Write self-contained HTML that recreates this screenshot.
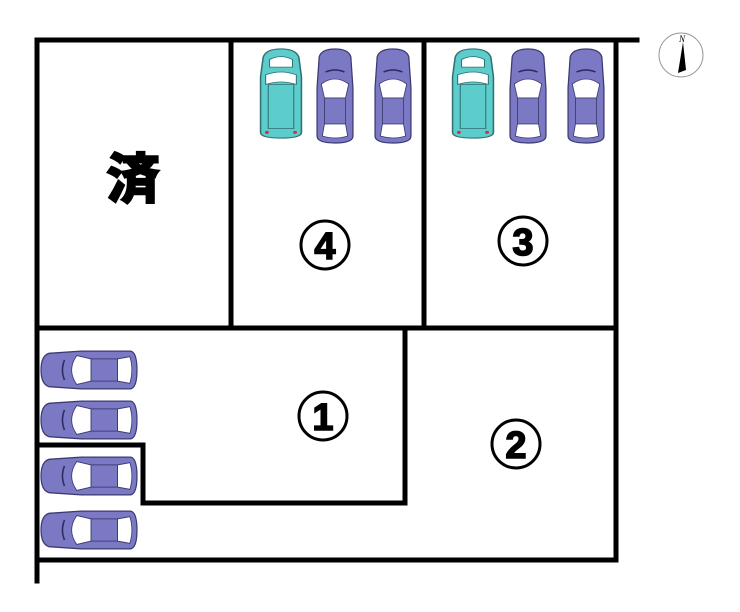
<!DOCTYPE html>
<html><head><meta charset="utf-8"><style>html,body{margin:0;padding:0;background:#fff}svg{display:block}</style></head>
<body>
<svg width="740" height="612" viewBox="0 0 740 612" xmlns="http://www.w3.org/2000/svg">
<defs>
<symbol id="car" viewBox="0 0 36 96" preserveAspectRatio="none">
<path d="M3 9 Q5 1 18 1 Q31 1 33 9 L35 40 L35 88 Q35 95 18 95 Q1 95 1 88 L1 40 Z" fill="#7b78c4" stroke="#3c3a70" stroke-width="1.2"/>
<path d="M5 36 Q18 26 31 36 L28 50 L8 50 Z" fill="#fff" stroke="#3c3a70" stroke-width="0.8"/>
<rect x="8" y="50" width="20" height="26" fill="#7b78c4" stroke="#3c3a70" stroke-width="0.8"/>
<path d="M8 76 L28 76 L30 88 Q18 92 6 88 Z" fill="#fff" stroke="#3c3a70" stroke-width="0.8"/>
<path d="M9 24 Q18 20 27 24" fill="none" stroke="#2c2a60" stroke-width="1.5"/>
</symbol>
<symbol id="carT" viewBox="0 0 36 96" preserveAspectRatio="none">
<path d="M4 10 Q6 1 18 1 Q30 1 32 10 L34 30 L34 88 Q34 94 18 94 Q2 94 2 88 L2 30 Z" fill="#5ccccc" stroke="#2f7070" stroke-width="1.2"/>
<path d="M6 28 Q18 22 30 28 L30 38 Q18 33 6 38 Z" fill="#fff" stroke="#2f7070" stroke-width="0.8"/>
<rect x="8" y="38" width="20" height="46" fill="#5ccccc" stroke="#2f7070" stroke-width="0.8"/>
<path d="M9 12 Q18 6 27 12 L27 20 L9 20 Z" fill="#fff" stroke="#2f7070" stroke-width="0.8"/>
<circle cx="7" cy="88" r="1.5" fill="#c33"/><circle cx="29" cy="88" r="1.5" fill="#c33"/>
</symbol>
</defs>
<g stroke="#000" stroke-width="5" fill="none" stroke-linecap="square">
<line x1="37" y1="40" x2="637" y2="40"/>
<line x1="37" y1="40" x2="37" y2="581"/>
<line x1="616" y1="40" x2="616" y2="560"/>
<line x1="37" y1="560" x2="616" y2="560"/>
<line x1="231" y1="40" x2="231" y2="328"/>
<line x1="424" y1="40" x2="424" y2="328"/>
<line x1="37" y1="328" x2="616" y2="328"/>
<line x1="405" y1="328" x2="405" y2="503"/>
<line x1="143" y1="503" x2="405" y2="503"/>
<line x1="143" y1="445" x2="143" y2="503"/>
<line x1="37" y1="445" x2="143" y2="445"/>
</g>
<use href="#carT" x="258" y="48" width="46" height="92"/>
<use href="#car" x="316" y="48" width="38" height="96"/>
<use href="#car" x="374" y="48" width="38" height="96"/>
<use href="#carT" x="450" y="48" width="46" height="92"/>
<use href="#car" x="509" y="48" width="38" height="96"/>
<use href="#car" x="567" y="48" width="38" height="96"/>
<g>
<use href="#car" x="0" y="0" width="40" height="98" transform="translate(40,390) rotate(-90)"/>
<use href="#car" x="0" y="0" width="40" height="98" transform="translate(40,440) rotate(-90)"/>
<use href="#car" x="0" y="0" width="40" height="98" transform="translate(40,496) rotate(-90)"/>
<use href="#car" x="0" y="0" width="40" height="98" transform="translate(40,550) rotate(-90)"/>
</g>
<text x="133" y="198" font-family="Liberation Sans, Noto Sans CJK JP, sans-serif" font-size="54" font-weight="900" text-anchor="middle" stroke="#000" stroke-width="1.5">済</text>
<g fill="none" stroke="#000" stroke-width="3">
<circle cx="325" cy="245" r="24"/><circle cx="523" cy="241" r="24"/>
<circle cx="323" cy="416" r="24"/><circle cx="516" cy="444" r="24"/>
</g>
<g font-family="Liberation Sans, sans-serif" font-size="38" font-weight="bold" text-anchor="middle" fill="#000" stroke="#000" stroke-width="1.5">
<text x="325" y="259">4</text><text x="523" y="255">3</text>
<text x="323" y="430">1</text><text x="516" y="458">2</text>
</g>
<circle cx="681" cy="55" r="22" fill="#fff" stroke="#999" stroke-width="1"/>
<polygon points="683,42 678,73 686,70" fill="#000"/>
<text x="682" y="42" font-family="Liberation Serif, serif" font-size="9" font-style="italic" text-anchor="middle">N</text>
</svg>
</body></html>
